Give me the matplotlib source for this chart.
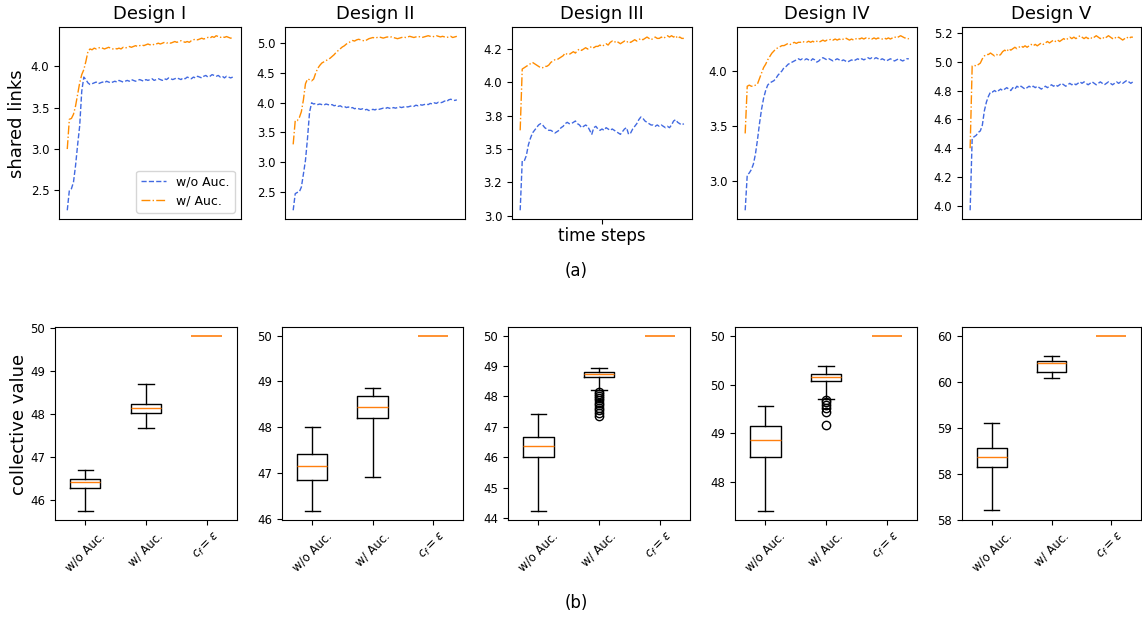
import numpy as np
import matplotlib
matplotlib.use("Agg")
import matplotlib.pyplot as plt
from matplotlib.ticker import MultipleLocator, FormatStrFormatter

# ---------------- data: top row (shared links over time) ----------------
designs = ["Design I", "Design II", "Design III", "Design IV", "Design V"]
series_labels = ["w/o Auc.", "w/ Auc."]

links_wo_I = [2.26, 2.50, 2.52, 2.60, 2.80, 3.05, 3.28, 3.70, 3.87, 3.84, 3.80, 3.78, 3.79,
              3.80, 3.81, 3.79, 3.80, 3.81, 3.80, 3.82, 3.81, 3.80, 3.81,
              3.82, 3.81, 3.83, 3.82, 3.81, 3.82, 3.83, 3.82, 3.84, 3.83,
              3.82, 3.83, 3.84, 3.83, 3.82, 3.84, 3.83, 3.84, 3.85, 3.83,
              3.84, 3.85, 3.84, 3.83, 3.85, 3.84, 3.86, 3.85, 3.84, 3.85,
              3.86, 3.85, 3.84, 3.86, 3.85, 3.87, 3.86, 3.85, 3.87, 3.86,
              3.88, 3.87, 3.86, 3.88, 3.89, 3.87, 3.88, 3.90, 3.89, 3.88,
              3.89, 3.87, 3.88, 3.86, 3.88, 3.87, 3.86, 3.87]
links_w_I = [3.00, 3.36, 3.37, 3.42, 3.52, 3.66, 3.80, 3.90, 3.96, 4.06, 4.18, 4.21, 4.20,
             4.22, 4.21, 4.22, 4.23, 4.22, 4.21, 4.22, 4.23, 4.22, 4.21,
             4.22, 4.21, 4.22, 4.21, 4.23, 4.22, 4.23, 4.24, 4.23, 4.24,
             4.25, 4.24, 4.25, 4.26, 4.25, 4.26, 4.27, 4.26, 4.27, 4.26,
             4.27, 4.28, 4.27, 4.28, 4.29, 4.28, 4.29, 4.28, 4.29, 4.30,
             4.29, 4.30, 4.31, 4.30, 4.29, 4.30, 4.29, 4.31, 4.32, 4.33,
             4.32, 4.33, 4.34, 4.33, 4.34, 4.35, 4.34, 4.36, 4.35, 4.37,
             4.36, 4.35, 4.36, 4.35, 4.36, 4.35, 4.34, 4.35]

links_wo_II = [2.19, 2.47, 2.49, 2.50, 2.58, 2.80, 3.03, 3.40, 3.84, 4.00, 3.98,
               3.99, 3.97, 3.98, 3.97, 3.96, 3.98, 3.97, 3.96,
               3.97, 3.95, 3.96, 3.94, 3.95, 3.93, 3.94, 3.92, 3.93, 3.91,
               3.92, 3.90, 3.91, 3.90, 3.89, 3.90, 3.88, 3.89, 3.87, 3.88,
               3.89, 3.88, 3.90, 3.89, 3.90, 3.91, 3.90, 3.92, 3.91, 3.90,
               3.92, 3.91, 3.92, 3.93, 3.92, 3.93, 3.94, 3.93, 3.94, 3.95,
               3.94, 3.96, 3.95, 3.97, 3.96, 3.97, 3.98, 3.97, 3.99, 3.98,
               4.00, 3.99, 4.01, 4.00, 4.01, 4.03, 4.02, 4.05, 4.06, 4.05, 4.04, 4.05]
links_w_II = [3.30, 3.70, 3.70, 3.75, 3.85, 4.05, 4.32, 4.40, 4.39, 4.37, 4.40,
              4.50, 4.58, 4.63, 4.67, 4.69, 4.71, 4.73, 4.75, 4.78, 4.81,
              4.85, 4.88, 4.91, 4.94, 4.96, 4.99, 5.01, 5.03, 5.05, 5.04,
              5.06, 5.07, 5.06, 5.05, 5.04, 5.06, 5.08, 5.09,
              5.10, 5.09, 5.10, 5.11, 5.10, 5.09, 5.10, 5.11, 5.10, 5.11,
              5.10, 5.09, 5.08, 5.09, 5.10, 5.11, 5.10, 5.11, 5.12, 5.11,
              5.10, 5.11, 5.12, 5.11, 5.10, 5.11, 5.12, 5.13, 5.12, 5.11,
              5.12, 5.13, 5.12, 5.11, 5.12, 5.11, 5.10, 5.11, 5.12, 5.10, 5.11, 5.12]

links_wo_III = [3.04, 3.41, 3.41, 3.45, 3.53, 3.58, 3.62, 3.64, 3.66, 3.68, 3.69,
                3.68, 3.66, 3.65, 3.64, 3.64, 3.63, 3.62, 3.63, 3.64, 3.66,
                3.67, 3.69, 3.70, 3.69, 3.69, 3.70, 3.71, 3.69, 3.68, 3.66,
                3.67, 3.68, 3.67, 3.64, 3.61, 3.66, 3.67, 3.65, 3.64, 3.65,
                3.64, 3.66, 3.65, 3.64, 3.65, 3.64, 3.63, 3.62, 3.61, 3.63,
                3.65, 3.66, 3.61, 3.62, 3.65, 3.67, 3.69, 3.72, 3.74, 3.73,
                3.71, 3.70, 3.69, 3.68, 3.68, 3.67, 3.68, 3.67, 3.68, 3.67,
                3.66, 3.67, 3.66, 3.68, 3.71, 3.72, 3.70, 3.69, 3.68, 3.69]
links_w_III = [3.64, 4.10, 4.11, 4.12, 4.13, 4.14, 4.15, 4.14, 4.13, 4.12, 4.11,
               4.11, 4.12, 4.12, 4.13, 4.15, 4.16, 4.17, 4.17, 4.18, 4.19,
               4.20, 4.22, 4.21, 4.21, 4.22, 4.23, 4.22, 4.24, 4.25, 4.24,
               4.25, 4.26, 4.25, 4.26, 4.27, 4.26, 4.27, 4.27, 4.28, 4.27,
               4.28, 4.29, 4.28, 4.30, 4.31, 4.30, 4.31, 4.30, 4.29, 4.30,
               4.31, 4.30, 4.31, 4.30, 4.31, 4.32, 4.31, 4.32, 4.33, 4.32,
               4.33, 4.34, 4.33, 4.32, 4.33, 4.34, 4.33, 4.33, 4.34, 4.33,
               4.34, 4.35, 4.34, 4.35, 4.34, 4.35, 4.33, 4.34, 4.33, 4.33]

links_wo_IV = [2.73, 3.05, 3.07, 3.10, 3.15, 3.24, 3.37, 3.52, 3.65, 3.75, 3.82,
               3.87, 3.89, 3.90, 3.91, 3.93, 3.96, 3.98, 4.00, 4.03, 4.04,
               4.06, 4.07, 4.08, 4.09, 4.10, 4.11, 4.10, 4.11, 4.10, 4.11,
               4.10, 4.09, 4.11, 4.10, 4.08, 4.09, 4.11, 4.12, 4.11, 4.10,
               4.11, 4.10, 4.09, 4.10, 4.11, 4.10, 4.09, 4.10, 4.09, 4.08,
               4.09, 4.10, 4.09, 4.10, 4.11, 4.10, 4.11, 4.10, 4.11, 4.12,
               4.11, 4.12, 4.11, 4.12, 4.11, 4.10, 4.11, 4.10, 4.09, 4.10,
               4.11, 4.10, 4.09, 4.10, 4.11, 4.10, 4.09, 4.10, 4.11, 4.11]
links_w_IV = [3.43, 3.86, 3.87, 3.86, 3.86, 3.87, 3.88, 3.93, 3.98, 4.03, 4.06,
              4.10, 4.13, 4.16, 4.18, 4.20, 4.21, 4.22, 4.23, 4.23, 4.24,
              4.25, 4.24, 4.25, 4.26, 4.25, 4.26, 4.26, 4.27, 4.26, 4.26,
              4.27, 4.26, 4.27, 4.26, 4.27, 4.26, 4.27, 4.28, 4.27, 4.28,
              4.28, 4.29, 4.28, 4.29, 4.28, 4.29, 4.28, 4.29, 4.30, 4.29,
              4.28, 4.29, 4.28, 4.29, 4.30, 4.29, 4.30, 4.29, 4.30, 4.29,
              4.30, 4.29, 4.30, 4.29, 4.30, 4.29, 4.29, 4.30, 4.29, 4.30,
              4.29, 4.30, 4.31, 4.30, 4.31, 4.32, 4.31, 4.30, 4.30, 4.29]

links_wo_V = [3.97, 4.47, 4.48, 4.49, 4.51, 4.52, 4.56, 4.66, 4.72, 4.76, 4.79,
              4.79, 4.80, 4.79, 4.80, 4.81, 4.80, 4.81, 4.82, 4.81, 4.80,
              4.82, 4.81, 4.83, 4.82, 4.83, 4.82, 4.81, 4.82, 4.83, 4.82,
              4.83, 4.82, 4.83, 4.82, 4.81, 4.82, 4.83, 4.82, 4.83, 4.84,
              4.83, 4.84, 4.83, 4.84, 4.85, 4.84, 4.83, 4.84, 4.85, 4.84,
              4.85, 4.84, 4.85, 4.86, 4.85, 4.86, 4.85, 4.84, 4.85, 4.86,
              4.85, 4.84, 4.85, 4.86, 4.85, 4.84, 4.85, 4.86, 4.85, 4.84,
              4.85, 4.86, 4.85, 4.86, 4.85, 4.86, 4.87, 4.86, 4.85, 4.86]
links_w_V = [4.40, 4.97, 4.975, 4.97, 4.98, 4.99, 5.02, 5.04, 5.05, 5.05, 5.06,
             5.05, 5.04, 5.05, 5.04, 5.05, 5.07, 5.08, 5.07, 5.09, 5.08,
             5.09, 5.10, 5.09, 5.10, 5.11, 5.10, 5.11, 5.10, 5.11, 5.12,
             5.11, 5.12, 5.11, 5.12, 5.13, 5.12, 5.13, 5.14, 5.13, 5.14,
             5.15, 5.14, 5.15, 5.14, 5.15, 5.16, 5.15, 5.16, 5.17, 5.16,
             5.17, 5.16, 5.17, 5.18, 5.17, 5.16, 5.17, 5.16, 5.17, 5.16,
             5.17, 5.18, 5.17, 5.16, 5.17, 5.16, 5.17, 5.18, 5.17, 5.16,
             5.17, 5.16, 5.17, 5.16, 5.15, 5.16, 5.17, 5.16, 5.17, 5.17]

links_wo = [links_wo_I, links_wo_II, links_wo_III, links_wo_IV, links_wo_V]
links_w = [links_w_I, links_w_II, links_w_III, links_w_IV, links_w_V]

# ---------------- data: bottom row (collective value box statistics) ----------------
box_labels = ["w/o Auc.", "w/ Auc.", r"$c_f = \varepsilon$"]
# per design: [whislo, q1, med, q3, whishi]
box_wo = [[45.75, 46.30, 46.42, 46.51, 46.71],
          [46.16, 46.84, 47.15, 47.42, 48.00],
          [44.22, 46.01, 46.38, 46.66, 47.43],
          [48.20, 48.76, 48.93, 49.07, 49.28],
          [58.10, 58.57, 58.68, 58.78, 59.05]]
box_w = [[47.68, 48.03, 48.14, 48.24, 48.70],
         [46.92, 48.21, 48.44, 48.68, 48.85],
         [48.22, 48.64, 48.73, 48.80, 48.95],
         [49.35, 49.54, 49.58, 49.61, 49.69],
         [59.54, 59.61, 59.70, 59.72, 59.78]]
fliers_w = [[], [],
            [48.15, 48.08, 48.02, 47.95, 47.88, 47.80, 47.72, 47.63, 47.55, 47.45, 47.36],
            [49.34, 49.32, 49.29, 49.26, 49.22, 49.08],
            []]
cf_value = [49.83, 50.0, 50.0, 50.0, 60.0]

# ---------------- layout ----------------
W, H = 1142, 618
fig = plt.figure(figsize=(W / 100, H / 100), dpi=100)

top_left = [59, 285, 512, 737, 962]
top_w = [182, 180, 180, 180, 179]
bot_left = [55, 282, 508, 735, 962]
bot_w = [182, 181, 182, 182, 179]
top_y0, top_h = 219, 192
bot_y0, bot_h = 520, 193

top_ytick_step = [0.5, 0.5, 0.25, 0.5, 0.2]
bot_ytick_step = [1, 1, 1, 0.5, 0.5]
bot_ylim = [None, None, None, None, (57.995, 60.095)]

blue = "#4169e1"
orange = "#ff8c00"

for i in range(5):
    ax = fig.add_axes([top_left[i] / W, 1 - top_y0 / H, top_w[i] / W, top_h / H])
    t = np.arange(len(links_wo[i]))
    ax.plot(t, links_wo[i], ls="--", color=blue, lw=1.0, label=series_labels[0])
    ax.plot(t, links_w[i], ls="-.", color=orange, lw=1.0, label=series_labels[1])
    ax.set_title(designs[i], fontsize=13)
    ax.yaxis.set_major_locator(MultipleLocator(top_ytick_step[i]))
    ax.yaxis.set_major_formatter(FormatStrFormatter("%.1f"))
    ax.tick_params(axis="y", labelsize=8.5)
    if i == 2:
        ax.set_xticks([t[len(t) // 2]])
        ax.set_xticklabels(["time steps"], fontsize=12)
        ax.tick_params(axis="x", pad=2)
    else:
        ax.set_xticks([])
    if i == 0:
        ax.legend(loc="lower right", fontsize=9)

for i in range(5):
    ax = fig.add_axes([bot_left[i] / W, 1 - bot_y0 / H, bot_w[i] / W, bot_h / H])
    stats = []
    for vals, fl, lab in [(box_wo[i], [], box_labels[0]),
                          (box_w[i], fliers_w[i], box_labels[1])]:
        stats.append(dict(whislo=vals[0], q1=vals[1], med=vals[2], q3=vals[3],
                          whishi=vals[4], fliers=fl, label=lab))
    ax.bxp(stats, positions=[1, 2], widths=0.5,
           flierprops=dict(marker="o", markerfacecolor="none", markeredgecolor="black",
                           markersize=6))
    cf_stats = [dict(whislo=cf_value[i], q1=cf_value[i], med=cf_value[i], q3=cf_value[i],
                     whishi=cf_value[i], fliers=[], label=box_labels[2])]
    ax.bxp(cf_stats, positions=[3], widths=0.5, showcaps=False,
           boxprops=dict(linewidth=0), whiskerprops=dict(linewidth=0),
           medianprops=dict(color="#ff7f0e", linewidth=1.2))
    ax.set_xlim(0.5, 3.5)
    ax.set_xticks([1, 2, 3])
    ax.set_xticklabels(box_labels)
    if bot_ylim[i] is not None:
        ax.set_ylim(*bot_ylim[i])
    ax.yaxis.set_major_locator(MultipleLocator(bot_ytick_step[i]))
    ax.yaxis.set_major_formatter(FormatStrFormatter("%.0f"))
    ax.tick_params(axis="y", labelsize=8.5)
    ax.tick_params(axis="x", labelsize=8.5)
    for lbl in ax.get_xticklabels():
        lbl.set_rotation(45)

fig.text(17 / W, 1 - 124 / H, "shared links", rotation=90, fontsize=13,
         ha="center", va="center")
fig.text(19 / W, 1 - 424 / H, "collective value", rotation=90, fontsize=13,
         ha="center", va="center")
fig.text(576 / W, 1 - 271 / H, "(a)", fontsize=12, ha="center", va="center")
fig.text(576 / W, 1 - 603 / H, "(b)", fontsize=12, ha="center", va="center")

fig.savefig("out.png", dpi=100)
